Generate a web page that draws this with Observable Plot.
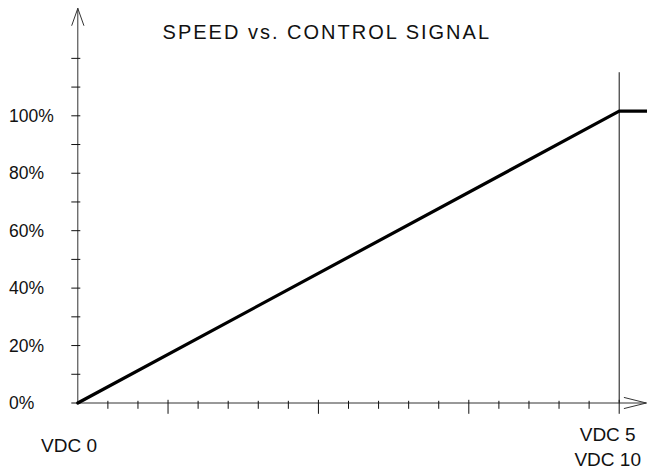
<!DOCTYPE html>
<html>
<head>
<meta charset="utf-8">
<script src="https://cdn.jsdelivr.net/npm/d3@7"></script>
<script src="https://cdn.jsdelivr.net/npm/@observablehq/plot@0.6"></script>
<style>
  html, body { margin: 0; padding: 0; background: #fff; }
  #chart svg { display: block; }
</style>
</head>
<body>
<div id="chart"></div>
<script>
// ---- data ----
const title = "SPEED vs. CONTROL SIGNAL";
const speedX = [0, 18, 18.95];          // control-signal units (tick steps)
const speedY = [0, 101.6, 101.6];       // speed %
const yTicks = [0, 10, 20, 30, 40, 50, 60, 70, 80, 90, 100, 110, 120];
const yLabels = [0, 20, 40, 60, 80, 100];
const xMinorTicks = [1, 2, 4, 5, 6, 7, 9, 10, 11, 12, 14, 15, 16, 17];
const xMajorTicks = [3, 8, 13, 18];
const limitX = [18];
const limitTop = [115];
const axisXEnd = [18.9];
const axisYEnd = [137.4];
const startLabel = ["VDC 0"];
const endLabels5 = ["VDC 5"];
const endLabels10 = ["VDC 10"];

const speed = speedX.map((x, i) => ({x, y: speedY[i]}));
const font = "Liberation Sans, Arial, Helvetica, sans-serif";
const ink = "#111";

const chart = Plot.plot({
  width: 647,
  height: 469,
  marginLeft: 77.3,
  marginRight: 28.3,
  marginTop: 115.3,
  marginBottom: 66.5,
  x: {domain: [0, 18]},
  y: {domain: [0, 100]},
  style: {fontFamily: font, background: "#fff", color: ink},
  marks: [
    // axes with open arrowheads
    Plot.arrow(axisXEnd, {x1: 0, y1: 0, x2: d => d, y2: 0, stroke: "#333", strokeWidth: 1, headAngle: 28, headLength: 34}),
    Plot.arrow(axisYEnd, {x1: 0, y1: 0, x2: 0, y2: d => d, stroke: "#333", strokeWidth: 1, headAngle: 39, headLength: 27}),
    // y ticks crossing the axis
    Plot.axisY({ticks: yTicks, tickSize: 9, dx: 3, tickFormat: () => "", label: null, stroke: ink}),
    // x ticks
    Plot.axisX({ticks: xMinorTicks, tickSize: 8, dy: -1.7, tickFormat: () => "", label: null, stroke: ink}),
    Plot.axisX({ticks: xMajorTicks, tickSize: 14, dy: -2.7, tickFormat: () => "", label: null, stroke: ink}),
    // vertical limit line
    Plot.ruleX(limitX, {x: d => d, y1: 0, y2: limitTop[0], stroke: ink, strokeWidth: 1}),
    // speed line
    Plot.line(speed, {x: "x", y: "y", stroke: "#000", strokeWidth: 3.2}),
    // y labels
    Plot.text(yLabels, {y: d => d, text: d => `${d}%`, frameAnchor: "left", textAnchor: "start", dx: -68.8, dy: 0.5, fontSize: 17.5, fill: ink}),
    // x labels
    Plot.text(startLabel, {x: 0, y: 0, text: d => d, dx: -8.8, dy: 42.5, fontSize: 19, fill: ink}),
    Plot.text(endLabels5, {x: limitX[0], y: 0, text: d => d, dx: -11.5, dy: 31.5, fontSize: 19, fill: ink}),
    Plot.text(endLabels10, {x: limitX[0], y: 0, text: d => d, dx: -11.5, dy: 56.5, fontSize: 19, fill: ink}),
    // title
    Plot.text([title], {frameAnchor: "top-left", textAnchor: "middle", lineAnchor: "middle", text: d => d, dx: 249, dy: -82.8, fontSize: 20, fill: ink})
  ]
});
d3.select(chart).selectAll("text").filter(function() { return this.textContent === title; })
  .attr("letter-spacing", "2px");
document.getElementById("chart").appendChild(chart);
</script>
</body>
</html>
